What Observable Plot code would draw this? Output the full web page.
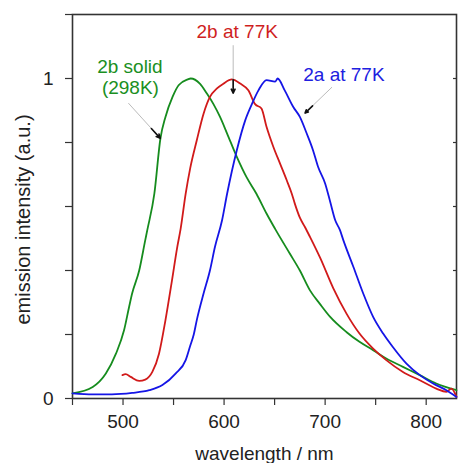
<!DOCTYPE html>
<html>
<head>
<meta charset="utf-8">
<script src="https://cdn.jsdelivr.net/npm/d3@7"></script>
<script src="https://cdn.jsdelivr.net/npm/@observablehq/plot@0.6"></script>
<style>
  html, body { margin: 0; padding: 0; background: #fff; }
</style>
</head>
<body>
<div id="chart"></div>
<script>
// ---- data ----
const greenNm  = [450,470,483,493,501,506,509,516,522,524,531,537,542,549,555,564,567,576,583,589.5,596,603,612.6,622.5,632,642,650.5,665,675,685,695,705,721,734,747.5,760.5,777,793.7,810,830];
const greenVal = [0.016,0.036,0.078,0.14,0.213,0.286,0.328,0.40,0.495,0.526,0.64,0.8125,0.88,0.9425,0.979,0.997,1.0,0.984,0.953,0.92,0.88,0.828,0.755,0.69,0.64,0.578,0.53,0.453,0.40,0.338,0.295,0.255,0.208,0.177,0.151,0.125,0.099,0.073,0.047,0.026];

const redNm  = [499.4,502.6,507.6,516,522,529,535.6,542,548.5,553.7,557,562,566.5,573,579.7,586,593,599.4,607.7,616,624,630.7,637,642,648.8,655.4,662,667,670,675,680,685,695,708,721,734,747.5,760.5,777,793.7,810,820,825,830];
const redVal = [0.073,0.076,0.0675,0.055,0.059,0.083,0.14,0.245,0.37,0.474,0.53,0.64,0.72,0.807,0.89,0.9425,0.969,0.984,0.997,0.984,0.963,0.92,0.906,0.849,0.786,0.734,0.682,0.64,0.609,0.565,0.536,0.505,0.44,0.345,0.266,0.203,0.156,0.12,0.083,0.057,0.031,0.021,0.031,0.005];

const blueNm  = [450,470,489,509,526,539,552,562,566.5,570,573,579.7,586,591,598,603,612.6,621,627.5,634,642,650.5,653,660,668.5,675,681.8,688,693,700,705,710,714.7,718,728,737.7,747.5,757.4,767,780.5,793.7,806.8,820,830];
const blueVal = [0.016,0.013,0.013,0.0175,0.026,0.042,0.078,0.12,0.165,0.2,0.245,0.328,0.40,0.474,0.557,0.64,0.776,0.87,0.92,0.963,0.995,0.99,1.0,0.963,0.911,0.88,0.828,0.776,0.724,0.672,0.615,0.557,0.526,0.495,0.411,0.328,0.255,0.203,0.161,0.109,0.073,0.047,0.026,0.005];

const xTicks = [450,500,550,600,650,700,750,800];
const xTickLabels = [500,600,700,800];
const yTicks = [0,0.2,0.4,0.6,0.8,1.0,1.2];
const yTickLabels = [0,1];
const yRightTicks = [0.2,0.4,0.6,0.8,1.0];

const labelTexts = ["2b solid", "(298K)", "2b at 77K", "2a at 77K"];
const labelNm    = [506.8, 507.3, 613, 718.6];
const labelVal   = [1.035, 0.97, 1.145, 1.01];
const labelColor = ["green", "green", "red", "blue"];

const arrowFromNm  = [505.3, 609, 706.8];
const arrowFromVal = [0.923, 1.104, 0.973];
const arrowToNm    = [536.9, 609, 680.1];
const arrowToVal   = [0.813, 0.954, 0.892];

// ---- build tables ----
const colors = {green: "#168c1e", red: "#d11a1a", blue: "#1515e6"};
const textColors = {green: "#1a8f22", red: "#cf1f1f", blue: "#2020e0"};
const green = greenNm.map((x, i) => ({x, y: greenVal[i]}));
const red = redNm.map((x, i) => ({x, y: redVal[i]}));
const blue = blueNm.map((x, i) => ({x, y: blueVal[i]}));
const labels = labelTexts.map((t, i) => ({t, x: labelNm[i], y: labelVal[i], c: textColors[labelColor[i]]}));
const arrows = arrowFromNm.map((x1, i) => {
  const x2 = arrowToNm[i], y1 = arrowFromVal[i], y2 = arrowToVal[i];
  const hx = x2 - (x2 - x1) * 0.28, hy = y2 - (y2 - y1) * 0.28;
  return {x1, y1, x2, y2, hx, hy};
});

const font = "'Liberation Sans', Arial, sans-serif";

const chart = Plot.plot({
  width: 458,
  height: 463,
  marginLeft: 72,
  marginTop: 14,
  marginRight: 2,
  marginBottom: 65,
  style: {fontFamily: font, fontSize: "19px", color: "#222", background: "#fff", overflow: "visible"},
  x: {domain: [450, 830]},
  y: {domain: [0, 1.2]},
  marks: [
    Plot.axisX({ticks: xTicks, tickSize: 7, tickPadding: 9, stroke: "#333", strokeWidth: 1.2,
      tickFormat: d => xTickLabels.includes(d) ? String(d) : "", label: null, fontSize: 19}),
    Plot.axisY({ticks: yTicks, tickSize: 7, tickPadding: 12, stroke: "#333", strokeWidth: 1.2,
      tickFormat: d => yTickLabels.some(v => Math.abs(v - d) < 1e-9) ? String(d) : "", label: null, fontSize: 19}),
    Plot.tickY(yRightTicks, {y: d => d, insetLeft: 381, stroke: "#333", strokeWidth: 1.2}),
    Plot.frame({stroke: "#333", strokeWidth: 1.6}),
    Plot.line(green, {x: "x", y: "y", stroke: colors.green, strokeWidth: 1.8, curve: "monotone-x"}),
    Plot.line(red, {x: "x", y: "y", stroke: colors.red, strokeWidth: 1.8, curve: "monotone-x"}),
    Plot.line(blue, {x: "x", y: "y", stroke: colors.blue, strokeWidth: 1.8, curve: "monotone-x"}),
    Plot.link(arrows, {x1: "x1", y1: "y1", x2: "x2", y2: "y2", stroke: "#aaa", strokeWidth: 0.8}),
    Plot.arrow(arrows, {x1: "hx", y1: "hy", x2: "x2", y2: "y2", stroke: "#111", strokeWidth: 1.6, headLength: 8, headAngle: 50}),
    Plot.text(labels, {x: "x", y: "y", text: "t", fill: "c", fontSize: 19, textAnchor: "middle"}),
    Plot.text(["wavelength / nm"], {frameAnchor: "bottom", text: d => d, fontSize: 19, textAnchor: "middle", lineAnchor: "middle", dy: 55, fill: "#222"}),
    Plot.text(["emission intensity (a.u.)"], {frameAnchor: "left", text: d => d, rotate: -90, fontSize: 20, textAnchor: "middle", lineAnchor: "middle", dx: -49, dy: 13, fill: "#222"})
  ]
});
document.getElementById("chart").appendChild(chart);
</script>
</body>
</html>
